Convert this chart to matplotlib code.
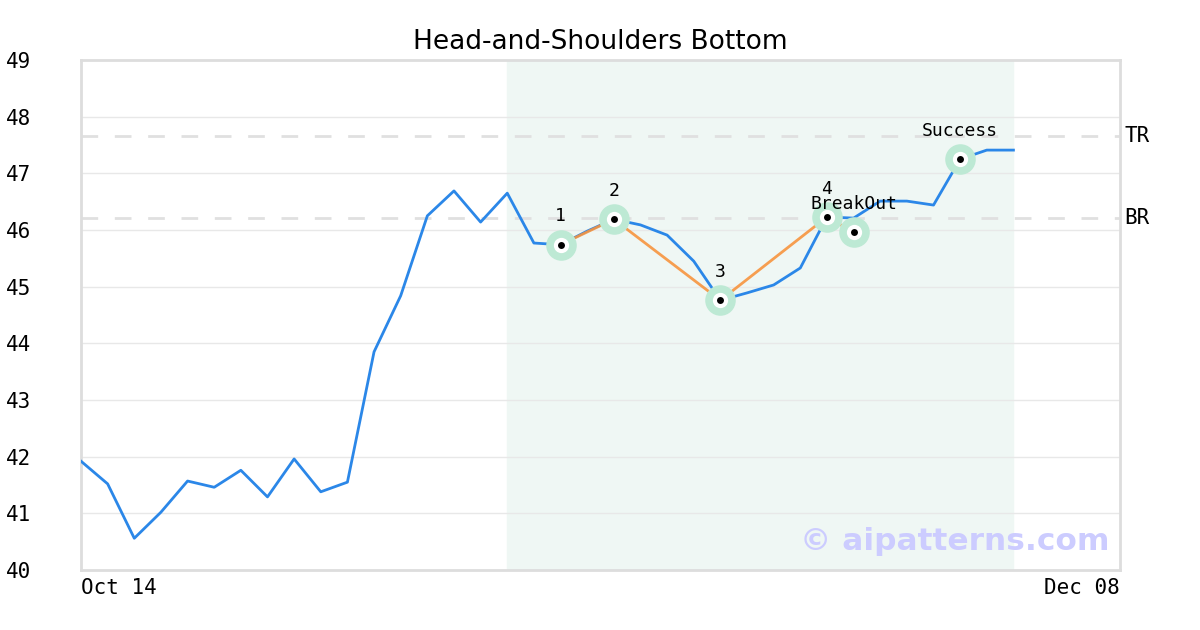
import numpy as np
import matplotlib
matplotlib.use("Agg")
import matplotlib.pyplot as plt

# closing prices, one per trading day from Oct 14
prices = [41.92, 41.52, 40.56, 41.02, 41.57, 41.46, 41.76, 41.29, 41.96, 41.38,
          41.55, 43.85, 44.84, 46.25, 46.69, 46.14, 46.65, 45.77, 45.74, 45.98,
          46.19, 46.09, 45.91, 45.45, 44.76, 44.89, 45.03, 45.33, 46.23, 46.21,
          46.51, 46.51, 46.44, 47.25, 47.41, 47.41]

# pattern pivots (index, value, label)
pivot_idx = [18, 20, 24, 28]
pivot_val = [45.74, 46.19, 44.76, 46.23]
pivot_lbl = ["1", "2", "3", "4"]
breakout_idx, breakout_val = 29, 45.96
success_idx, success_val = 33, 47.25

top_resist = 47.66
bot_resist = 46.21
pattern_span = (16, 35)

n_days = 40
tick_pos = [0, n_days - 1]
tick_lbl = ["Oct 14", "Dec 08"]
y_ticks = list(range(40, 50))

mono = "DejaVu Sans Mono"

fig = plt.figure(figsize=(12, 6.3), dpi=100)
ax = fig.add_axes([81/1200, 60/630, 1039/1200, 510/630])

ax.set_xlim(0, n_days - 1)
ax.set_ylim(40, 49)

ax.axvspan(*pattern_span, color="#eff7f4", zorder=0)
for y in y_ticks[1:-1]:
    ax.axhline(y, color="#e8e8e8", lw=1, zorder=1)

for lvl, name in [(top_resist, "TR"), (bot_resist, "BR")]:
    ax.axhline(lvl, color="#e0e0e0", lw=2, dashes=(6, 6), zorder=1)
    ax.text(1.004, lvl, name, transform=ax.get_yaxis_transform(), va="center",
            ha="left", fontsize=15, family=mono, clip_on=False)

x = np.arange(len(prices))
ax.plot(x, prices, color="#2b87e8", lw=2.0, zorder=3)

ox = pivot_idx + [breakout_idx]
oy = pivot_val + [breakout_val]
ax.plot(ox, oy, color="#f7943e", lw=2.0, alpha=0.9, zorder=4)

mx = ox + [success_idx]
my = oy + [success_val]
ax.plot(mx, my, "o", ms=22, color="#bde9d4", mec="none", zorder=5)
ax.plot(mx, my, "o", ms=11, color="white", mec="none", zorder=6)
ax.plot(mx, my, "o", ms=5, color="black", mec="none", zorder=7)

for i, v, t in zip(pivot_idx, pivot_val, pivot_lbl):
    ax.annotate(t, (i, v), xytext=(0, 14), textcoords="offset points",
                ha="center", va="bottom", fontsize=13, family=mono, zorder=8)
ax.annotate("BreakOut", (breakout_idx, pivot_val[-1]), xytext=(0, 3),
            textcoords="offset points", ha="center", va="bottom", fontsize=13,
            family=mono, zorder=8)
ax.annotate("Success", (success_idx, success_val), xytext=(0, 14),
            textcoords="offset points", ha="center", va="bottom", fontsize=13,
            family=mono, zorder=8)

ax.text(0.99, 0.055, "© aipatterns.com", transform=ax.transAxes, ha="right",
        va="center", fontsize=22.5, fontweight="bold", color="#ccccff", zorder=9)

ax.set_yticks(y_ticks)
ax.set_yticklabels([str(v) for v in y_ticks], family=mono, fontsize=15)
ax.tick_params(axis="y", length=0, pad=36)
ax.set_xticks(tick_pos)
ax.set_xticklabels(tick_lbl, family=mono, fontsize=15)
ax.tick_params(axis="x", length=0, pad=6)
labs = ax.get_xticklabels()
labs[0].set_ha("left")
labs[1].set_ha("right")

for s in ax.spines.values():
    s.set_color("#dddddd")
    s.set_linewidth(2)

ax.set_title("Head-and-Shoulders Bottom", fontsize=19, pad=8)

fig.savefig("out.png", dpi=100)
